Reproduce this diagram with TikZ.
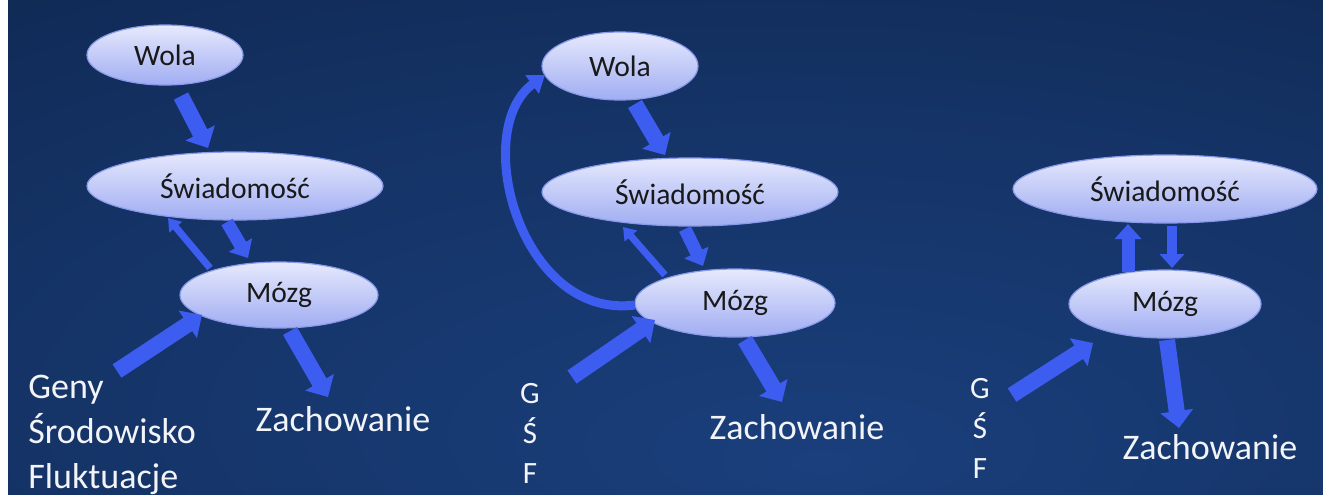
\documentclass[tikz,border=0pt]{standalone}
\usepackage{fontspec}
\setmainfont{Carlito}
\usetikzlibrary{shapes.geometric,arrows.meta}

\definecolor{bgin}{HTML}{1A3F7C}
\definecolor{bgout}{HTML}{0A1C3C}
\definecolor{arrowblue}{HTML}{3C5DF0}
\definecolor{bubtop}{HTML}{E6E9FD}
\definecolor{bubbot}{HTML}{A0ADF2}
\definecolor{bubline}{HTML}{8A9AEA}
\definecolor{labelwhite}{HTML}{F2F4F8}

% soft glow behind the diagrams, brightest in the lower middle
\pgfdeclareradialshading{bgglow}{\pgfpoint{6bp}{-22bp}}{%
  color(0bp)=(bgin); color(30bp)=(bgin!65!bgout); color(75bp)=(bgout); color(100bp)=(bgout)}

\begin{document}
\begin{tikzpicture}[x=0.5pt,y=-0.5pt,
  bubble/.style={ellipse, draw=bubline, line width=0.6pt,
    top color=bubtop, bottom color=bubbot, inner sep=0pt,
    font=\fontsize{14.8}{16}\selectfont, text=black!90},
  outtext/.style={text=labelwhite, inner sep=0pt,
    font=\fontsize{18}{22.5}\selectfont},
  lettertext/.style={text=labelwhite, inner sep=0pt, align=center,
    font=\fontsize{15.5}{20}\selectfont},
  fatarrow/.style={draw=arrowblue, line width=8pt,
    -{Triangle[width=16pt,length=8.5pt]}},
  midarrow/.style={draw=arrowblue, line width=6.5pt,
    -{Triangle[width=13pt,length=7.5pt]}},
  slimarrow/.style={draw=arrowblue, line width=5pt,
    -{Triangle[width=12pt,length=7pt]}},
  thinarrow/.style={draw=arrowblue, line width=3.5pt,
    -{Triangle[width=8pt,length=6pt]}},
  curvearrow/.style={draw=arrowblue, line width=4.5pt,
    -{Triangle[width=11pt,length=8pt]}}
]
% canvas
\fill[white] (0,0) rectangle (1323,494);
\shade[shading=bgglow] (8,0) rectangle (1323,494);
\useasboundingbox (0,0) rectangle (1323,494);

% ---------- first diagram ----------
\node[bubble, minimum width=78pt, minimum height=30pt] (wola1) at (165,55) {Wola};
\node[bubble, minimum width=148pt, minimum height=34pt] (swi1) at (235,186) {Świadomość};
\node[bubble, minimum width=99pt, minimum height=33pt] (mozg1) at (279,295) {Mózg};
\node[outtext, anchor=north west, align=left] (gen1) at (28,375)
  {Geny\\Środowisko\\Fluktuacje};
\node[outtext] (zach1) at (343,419) {Zachowanie};

\draw[fatarrow] ([shift={(16,41)}]wola1.center) -- ([shift={(-27,-38)}]swi1.center);
\draw[midarrow] ([shift={(-8,36)}]swi1.center) -- ([shift={(-31,-37)}]mozg1.center);
\draw[thinarrow] ([shift={(-69,-27)}]mozg1.center) -- ([shift={(-67,32)}]swi1.center);
\draw[fatarrow] ([shift={(89,-4)}]gen1.north west) -- ([shift={(-77,20)}]mozg1.center);
\draw[fatarrow] ([shift={(11,36)}]mozg1.center) -- ([shift={(-15,-22)}]zach1.center);

% ---------- second diagram ----------
\node[bubble, minimum width=78pt, minimum height=34pt] (wola2) at (620,66) {Wola};
\node[bubble, minimum width=148pt, minimum height=34pt] (swi2) at (690,192) {Świadomość};
\node[bubble, minimum width=100pt, minimum height=34pt] (mozg2) at (735,303) {Mózg};
\node[lettertext, anchor=north] (gsf2) at (530,383) {G\\Ś\\F};
\node[outtext] (zach2) at (797,427) {Zachowanie};

\draw[fatarrow] ([shift={(15,38)}]wola2.center) -- ([shift={(-25,-37)}]swi2.center);
\draw[midarrow] ([shift={(-5,37)}]swi2.center) -- ([shift={(-32,-37)}]mozg2.center);
\draw[thinarrow] ([shift={(-70,-28)}]mozg2.center) -- ([shift={(-67,35)}]swi2.center);
\draw[curvearrow] ([shift={(-100,2)}]mozg2.center)
  .. controls ([shift={(-215,17)}]mozg2.center) and ([shift={(-150,64)}]wola2.center)
  .. ([shift={(-75,9)}]wola2.center);
\draw[fatarrow] ([shift={(42,-6)}]gsf2.north) -- ([shift={(-80,17)}]mozg2.center);
\draw[fatarrow] ([shift={(10,37)}]mozg2.center) -- ([shift={(-15,-25)}]zach2.center);

% ---------- third diagram ----------
\node[bubble, minimum width=152pt, minimum height=34pt] (swi3) at (1165,189) {Świadomość};
\node[bubble, minimum width=96pt, minimum height=34pt] (mozg3) at (1165,304) {Mózg};
\node[lettertext, anchor=north] (gsf3) at (980,378) {G\\Ś\\F};
\node[outtext] (zach3) at (1210,447) {Zachowanie};

\draw[midarrow] ([shift={(-37,-32)}]mozg3.center) -- ([shift={(-37,35)}]swi3.center);
\draw[slimarrow] ([shift={(7,37)}]swi3.center) -- ([shift={(7,-36)}]mozg3.center);
\draw[fatarrow] ([shift={(32,17)}]gsf3.north) -- ([shift={(-72,39)}]mozg3.center);
\draw[fatarrow] ([shift={(2,36)}]mozg3.center) -- ([shift={(-31,-19)}]zach3.center);
\end{tikzpicture}
\end{document}
